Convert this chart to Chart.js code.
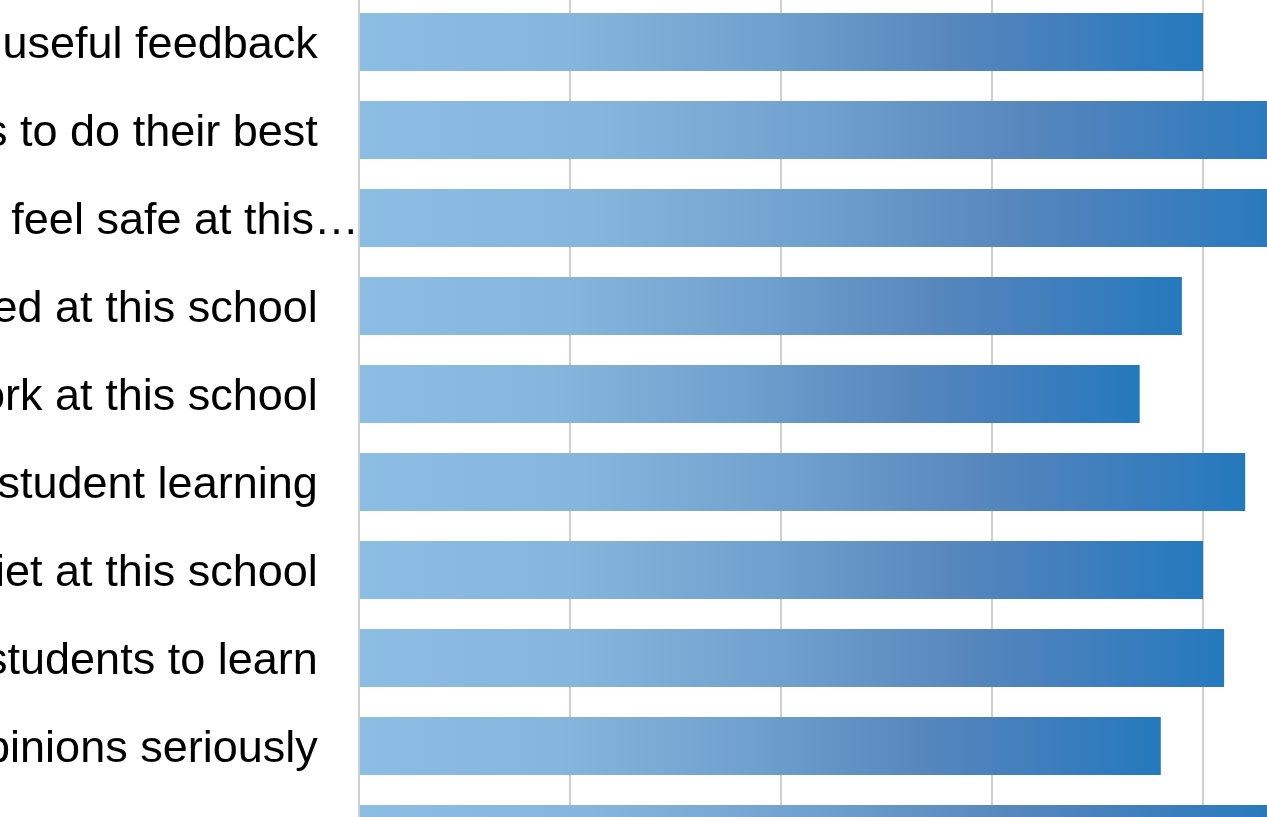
<!DOCTYPE html>
<html>
<head>
<meta charset="utf-8">
<title>Survey results</title>
<script src="https://cdn.jsdelivr.net/npm/chart.js@4"></script>
<style>
    html, body {
        margin: 0;
        padding: 0;
        width: 1267px;
        height: 817px;
        overflow: hidden;
        background: #fff;
    }
    /* the chart is bigger than the window, the window shows a cut of it */
    #wrap {
        position: absolute;
        left: -420px;
        top: -40px;
        width: 1850px;
        height: 950px;
    }
</style>
</head>
<body>
<div id="wrap"><canvas id="surveyChart"></canvas></div>
<script>
const statements = [
    'Teachers give students useful feedback',
    'Teachers encourage students to do their best',
    'Students feel safe at this\u2026',
    'Students are respected at this school',
    'I enjoy my work at this school',
    'Teachers focus on student learning',
    'Classrooms are quiet at this school',
    'Teachers motivate students to learn',
    'Teachers take students\u2019 opinions seriously',
    'Teachers respond to all concerns'
];
const meanScores = [4.0, 4.5, 4.4, 3.9, 3.7, 4.2, 4.0, 4.1, 3.8, 4.4];
const scaleMin = 0;
const scaleMax = 5;

const LIGHT = '#8cbde3';
const DARK = '#2479bd';

function barGradient(c) {
    const chart = c.chart;
    const area = chart.chartArea;
    if (!area) return DARK;
    const end = chart.scales.x.getPixelForValue(c.dataset.data[c.dataIndex]);
    const g = chart.ctx.createLinearGradient(area.left, 0, end, 0);
    g.addColorStop(0, LIGHT);
    g.addColorStop(0.25, '#86b5dd');
    g.addColorStop(0.5, '#6f9fcd');
    g.addColorStop(0.7, '#5787bd');
    g.addColorStop(0.85, '#3f7ebd');
    g.addColorStop(1, DARK);
    return g;
}

// labels that were not cut by the source tool keep a small gap before the axis
const shownLabels = statements.map(s => s.endsWith('\u2026') ? s : s + '\u00A0\u00A0\u00A0\u200A');

const ctx = document.getElementById('surveyChart').getContext('2d');
new Chart(ctx, {
    type: 'bar',
    data: {
        labels: shownLabels,
        datasets: [{
            data: meanScores,
            backgroundColor: barGradient,
            borderWidth: 0,
            categoryPercentage: 1,
            barPercentage: 58 / 88
        }]
    },
    options: {
        indexAxis: 'y',
        responsive: true,
        maintainAspectRatio: false,
        animation: false,
        layout: {
            padding: { left: 0, top: 38, right: 16, bottom: 32 }
        },
        plugins: {
            legend: { display: false },
            tooltip: { enabled: false }
        },
        scales: {
            x: {
                min: scaleMin,
                max: scaleMax,
                ticks: { display: false, stepSize: 1 },
                grid: {
                    color: '#d0d0d0',
                    lineWidth: 2,
                    drawTicks: false
                },
                border: { display: false }
            },
            y: {
                grid: { display: false, drawTicks: false },
                border: { display: true, color: '#cfcfcf', width: 2 },
                ticks: {
                    color: '#000',
                    padding: 0,
                    labelOffset: 4,
                    autoSkip: false,
                    font: { family: '"Liberation Sans", Arial, sans-serif', size: 45 }
                },
                afterFit: (scale) => { scale.width = 779; }
            }
        }
    }
});
</script>
</body>
</html>
